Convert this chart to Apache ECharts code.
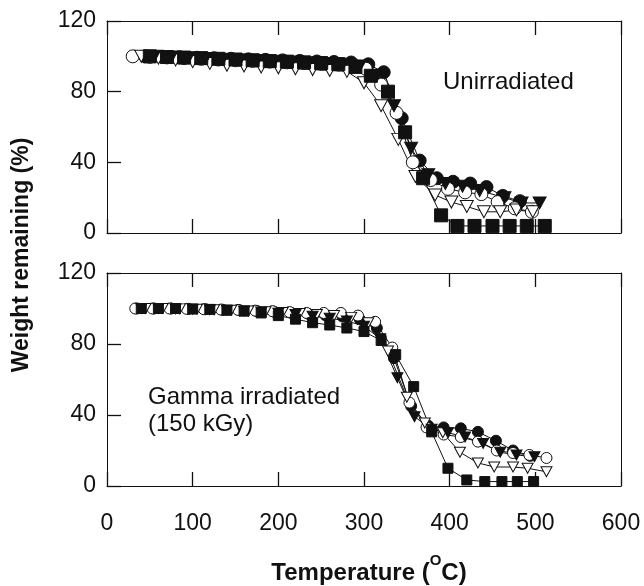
<!DOCTYPE html>
<html>
<head>
<meta charset="utf-8">
<script src="https://cdn.jsdelivr.net/npm/echarts/dist/echarts.min.js"></script>
<style>
  html, body { margin: 0; padding: 0; background: #fff; }
  #chart { width: 644px; height: 586px; }
</style>
</head>
<body>
<div id="chart"></div>
<script>
// Thermogravimetric curves: weight remaining (%) vs temperature (°C)
// Upper panel: unirradiated samples; lower panel: gamma irradiated (150 kGy)

const xTicks = [0, 100, 200, 300, 400, 500, 600];
const yTicks = [0, 40, 80, 120];

// ---- Unirradiated ----
const uFilledCircleT = [45, 65, 85, 105, 125, 145, 165, 185, 205, 225, 245, 265, 285, 305, 323, 344, 365, 385, 404, 424, 443, 462, 482];
const uFilledCircleW = [100, 99.8, 99.5, 99.2, 98.9, 98.6, 98.3, 98, 97.7, 97.4, 97.1, 96.8, 96.5, 95.5, 91, 65, 41, 31, 29, 28, 26, 21, 18];

const uOpenCircleT = [30, 50, 70, 90, 110, 130, 150, 170, 190, 210, 230, 250, 270, 290, 302, 320, 338, 357, 378, 398, 418, 437, 456, 476, 496];
const uOpenCircleW = [100, 99.7, 99.4, 99, 98.6, 98.2, 97.8, 97.4, 97, 96.6, 96.2, 95.8, 95.4, 94.5, 93, 84, 68, 40, 30, 25, 23, 22, 17.5, 14, 12];

const uOpenTriT = [40, 60, 80, 100, 120, 140, 160, 180, 200, 220, 240, 260, 280, 300, 320, 340, 360, 383, 402, 420, 440, 459, 478, 497];
const uOpenTriW = [100, 99, 98, 97, 96, 95, 94.5, 94, 93.5, 93, 92.5, 92, 91.5, 85, 72, 53, 32, 21.5, 17.5, 15, 12, 12, 13, 12];

const uFilledTriT = [55, 75, 95, 115, 135, 155, 175, 195, 215, 235, 255, 275, 295, 315, 335, 355, 375, 395, 415, 435, 464, 484, 505];
const uFilledTriW = [100, 99.6, 99.2, 98.8, 98.4, 98, 97.6, 97.2, 96.8, 96.4, 96, 95.5, 94.5, 89, 72, 48, 33, 28, 26.5, 24, 20, 17, 17];

const uSquareT = [50, 70, 90, 110, 130, 150, 170, 190, 210, 230, 250, 270, 290, 308, 328, 348, 369, 390, 409, 429, 450, 470, 490, 511];
const uSquareW = [100, 99.6, 99.3, 99, 98.6, 98.2, 97.8, 97.3, 97, 96.6, 96.2, 95.6, 94, 89, 80, 57, 31, 10, 4, 4, 4, 4, 4, 4];

// ---- Gamma irradiated (150 kGy) ----
const gFilledCircleT = [35, 55, 75, 95, 115, 135, 155, 175, 195, 215, 235, 255, 275, 295, 315, 335, 355, 375, 393, 413, 433, 454, 474, 494];
const gFilledCircleW = [100, 100, 100, 99.8, 99.6, 99.3, 99, 98.6, 98.2, 97.6, 97, 96.2, 95.5, 94, 89, 72, 45, 34, 33, 32.5, 30.5, 25.5, 20, 17];

const gOpenCircleT = [33, 53, 73, 93, 113, 133, 153, 173, 193, 213, 233, 253, 273, 293, 313, 333, 353, 373, 393, 413, 433, 455, 474, 493, 513];
const gOpenCircleW = [100, 100, 100, 99.8, 99.6, 99.4, 99.2, 98.8, 98.5, 98, 97.5, 97.5, 97.5, 96, 92.5, 78, 47, 33, 29, 27.6, 25, 20, 18.6, 17.5, 15.8];

const gOpenTriT = [45, 65, 85, 105, 125, 145, 165, 185, 205, 225, 245, 265, 285, 305, 328, 350, 371, 392, 412, 433, 452, 474, 491, 513];
const gOpenTriW = [100, 100, 99.8, 99.6, 99.3, 99, 98.6, 98.2, 97.8, 97.2, 96.6, 96, 95, 92, 76, 50, 35.5, 30, 19, 13, 10.7, 10.7, 10, 8];

const gFilledTriT = [40, 60, 80, 100, 120, 140, 160, 180, 200, 220, 240, 260, 280, 300, 319, 339, 359, 379, 398, 418, 439, 459, 478, 499];
const gFilledTriW = [100, 100, 99.8, 99.6, 99.3, 99, 98.6, 98, 97.4, 96.6, 95.6, 94.5, 93, 90, 83, 61, 39, 32, 30, 27.6, 24, 19, 17.5, 16.5];

const gSquareT = [40, 60, 80, 100, 120, 140, 160, 180, 200, 220, 240, 260, 280, 300, 320, 337, 358, 379, 398, 420, 441, 461, 479, 498];
const gSquareW = [100, 100, 100, 99.7, 99.5, 99, 98.5, 97.5, 96, 94, 92, 90.7, 89, 87, 82, 74, 56, 30.5, 10, 3.4, 2.5, 2.5, 2.5, 2.5];

const FONT = '"Liberation Sans", Arial, Helvetica, sans-serif';
const INK = '#111';

function pairs(xs, ys) {
  return xs.map((x, i) => [x, ys[i]]);
}

function xAxisFor(grid, position, showLabels) {
  return {
    type: 'value', gridIndex: grid, position: position,
    min: xTicks[0], max: xTicks[xTicks.length - 1], interval: 100,
    axisLine: { show: true, onZero: false, lineStyle: { color: INK, width: 1 } },
    axisTick: { show: true, inside: true, length: 14, lineStyle: { color: INK, width: 1.3 } },
    axisLabel: { show: showLabels, color: INK, fontSize: 23, fontFamily: FONT, margin: 26 },
    splitLine: { show: false }
  };
}

function yAxisFor(grid, position, showLabels) {
  return {
    type: 'value', gridIndex: grid, position: position,
    min: yTicks[0], max: yTicks[yTicks.length - 1], interval: 40,
    axisLine: { show: true, onZero: false, lineStyle: { color: INK, width: 1 } },
    axisTick: { show: showLabels, inside: true, length: 14, lineStyle: { color: INK, width: 1.3 } },
    axisLabel: { show: showLabels, color: INK, fontSize: 23, fontFamily: FONT, margin: 11 },
    splitLine: { show: false }
  };
}

function curve(name, xs, ys, kind, panel, size) {
  const filled = kind.startsWith('filled');
  let symbol = 'circle', rotate = 0, symSize = size;
  if (kind.endsWith('Tri')) { symbol = 'triangle'; rotate = 180; symSize = [size + 1, size]; }
  if (kind.endsWith('Square')) { symbol = 'rect'; symSize = size - 1; }
  return {
    name: name, type: 'line',
    xAxisIndex: panel * 2, yAxisIndex: panel * 2,
    data: pairs(xs, ys),
    symbol: symbol, symbolSize: symSize, symbolRotate: rotate,
    showAllSymbol: true,
    lineStyle: { color: INK, width: 1 },
    itemStyle: { color: filled ? INK : '#fff', borderColor: INK, borderWidth: 1 },
    emphasis: { disabled: true },
    animation: false
  };
}

const chart = echarts.init(document.getElementById('chart'), null, { renderer: 'canvas' });

chart.setOption({
  backgroundColor: '#fff',
  animation: false,
  grid: [
    { left: 107, right: 23, top: 21, height: 212 },
    { left: 107, right: 23, top: 273, height: 213 }
  ],
  xAxis: [
    xAxisFor(0, 'bottom', false), xAxisFor(0, 'top', false),
    xAxisFor(1, 'bottom', true), xAxisFor(1, 'top', false)
  ],
  yAxis: [
    yAxisFor(0, 'left', true), yAxisFor(0, 'right', false),
    yAxisFor(1, 'left', true), yAxisFor(1, 'right', false)
  ],
  series: [
    curve('Unirradiated ●', uFilledCircleT, uFilledCircleW, 'filledCircle', 0, 13),
    curve('Unirradiated ○', uOpenCircleT, uOpenCircleW, 'openCircle', 0, 13),
    curve('Unirradiated ▽', uOpenTriT, uOpenTriW, 'openTri', 0, 12),
    curve('Unirradiated ▼', uFilledTriT, uFilledTriW, 'filledTri', 0, 12),
    curve('Unirradiated ■', uSquareT, uSquareW, 'filledSquare', 0, 14),
    curve('Gamma ●', gFilledCircleT, gFilledCircleW, 'filledCircle', 1, 11),
    curve('Gamma ○', gOpenCircleT, gOpenCircleW, 'openCircle', 1, 11),
    curve('Gamma ▽', gOpenTriT, gOpenTriW, 'openTri', 1, 10),
    curve('Gamma ▼', gFilledTriT, gFilledTriW, 'filledTri', 1, 10),
    curve('Gamma ■', gSquareT, gSquareW, 'filledSquare', 1, 11)
  ],
  graphic: [
    {
      type: 'text', x: 22, y: 255, rotation: Math.PI / 2,
      style: {
        text: 'Weight remaining (%)', fill: INK,
        font: 'bold 23px ' + FONT, textAlign: 'center', textVerticalAlign: 'middle'
      }
    },
    {
      type: 'text', x: 369, y: 569,
      style: {
        text: '{a|Temperature (}{s|O}{a|C)}', fill: INK,
        textAlign: 'center', textVerticalAlign: 'middle',
        rich: {
          a: { fontFamily: FONT, fontSize: 24, fontWeight: 'bold', lineHeight: 32, verticalAlign: 'bottom', fill: INK },
          s: { fontFamily: FONT, fontSize: 15, fontWeight: 'bold', lineHeight: 32, verticalAlign: 'top', fill: INK }
        }
      }
    },
    {
      type: 'text', x: 443, y: 82,
      style: { text: 'Unirradiated', fill: INK, font: '24px ' + FONT, textAlign: 'left', textVerticalAlign: 'middle' }
    },
    {
      type: 'text', x: 148, y: 397,
      style: { text: 'Gamma irradiated', fill: INK, font: '24px ' + FONT, textAlign: 'left', textVerticalAlign: 'middle' }
    },
    {
      type: 'text', x: 148, y: 424,
      style: { text: '(150 kGy)', fill: INK, font: '24px ' + FONT, textAlign: 'left', textVerticalAlign: 'middle' }
    }
  ]
});
</script>
</body>
</html>
